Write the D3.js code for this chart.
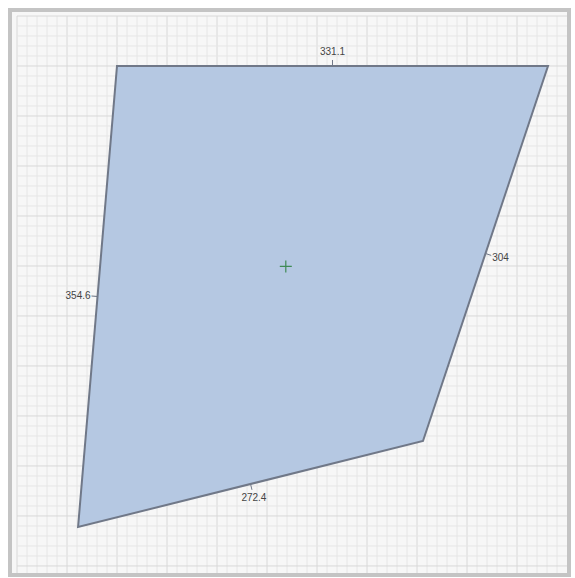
<!DOCTYPE html>
<html>
<head>
<meta charset="utf-8">
<script src="https://cdn.jsdelivr.net/npm/d3@7"></script>
<style>
  body { margin: 0; background: #fff; }
  text { font-family: "Liberation Sans", Arial, sans-serif; }
</style>
</head>
<body>
<div id="chart"></div>
<script>
// Polygon corners in plan units (x right, y down)
const cornerX = [76.8, 407.8, 311.8, 46.9];
const cornerY = [38.4, 38.4, 326.4, 392.5];
// Edge length labels, edge i runs from corner i to corner i+1
const edgeLabels = ["331.1", "304", "272.4", "354.6"];
// Grid step in plan units
const gridStep = 7.68;

const width = 575, height = 578;
const inner = { left: 17, top: 16, right: 567, bottom: 573 };

const svg = d3.select("#chart").append("svg")
    .attr("width", width)
    .attr("height", height);

// Scales: plan units to pixels
const x = d3.scaleLinear().domain([0, 422.4]).range([inner.left, inner.right]);
const y = d3.scaleLinear().domain([0, 427.8]).range([inner.top, inner.bottom]);

// Background frame
svg.append("rect")
    .attr("x", 10).attr("y", 10)
    .attr("width", 559).attr("height", 565)
    .attr("fill", "#f7f7f7")
    .attr("stroke", "#c4c4c4")
    .attr("stroke-width", 4);

// Grid
const grid = svg.append("g").attr("class", "grid");
const xTicks = d3.range(0, 422.4, gridStep);
const yTicks = d3.range(0, 427.8, gridStep);

grid.selectAll(".gx")
    .data(xTicks)
    .enter().append("line")
    .attr("class", "gx")
    .attr("x1", d => x(d)).attr("x2", d => x(d))
    .attr("y1", inner.top).attr("y2", inner.bottom)
    .attr("stroke", (d, i) => i % 5 === 0 ? "#d8d8d8" : "#e6e6e6")
    .attr("stroke-width", 1);

grid.selectAll(".gy")
    .data(yTicks)
    .enter().append("line")
    .attr("class", "gy")
    .attr("y1", d => y(d)).attr("y2", d => y(d))
    .attr("x1", inner.left).attr("x2", inner.right)
    .attr("stroke", (d, i) => i % 5 === 0 ? "#d8d8d8" : "#e6e6e6")
    .attr("stroke-width", 1);

// Polygon
const pts = cornerX.map((d, i) => [x(d), y(cornerY[i])]);

svg.append("path")
    .attr("d", d3.line()(pts) + "Z")
    .attr("fill", "#b5c8e2")
    .attr("stroke", "#707888")
    .attr("stroke-width", 2)
    .attr("stroke-linejoin", "miter");

// Centroid marker
const c = d3.polygonCentroid(pts);
svg.append("path")
    .attr("d", `M${c[0] - 6},${c[1]}H${c[0] + 6}M${c[0]},${c[1] - 6}V${c[1] + 6}`)
    .attr("stroke", "#3f8a55")
    .attr("stroke-width", 1.2)
    .attr("fill", "none");

// Edge labels, placed just outside each edge midpoint
const centre = [d3.mean(pts, p => p[0]), d3.mean(pts, p => p[1])];
const labels = svg.append("g").attr("class", "edge-labels");

edgeLabels.forEach((label, i) => {
    const a = pts[i], b = pts[(i + 1) % pts.length];
    const mx = (a[0] + b[0]) / 2, my = (a[1] + b[1]) / 2;
    // outward normal
    let nx = -(b[1] - a[1]), ny = b[0] - a[0];
    const len = Math.hypot(nx, ny);
    nx /= len; ny /= len;
    if ((mx - centre[0]) * nx + (my - centre[1]) * ny < 0) { nx = -nx; ny = -ny; }

    labels.append("line")
        .attr("x1", mx).attr("y1", my)
        .attr("x2", mx + nx * 6).attr("y2", my + ny * 6)
        .attr("stroke", "#707888")
        .attr("stroke-width", 1);

    const tx = mx + nx * 14, ty = my + ny * 14;
    let anchor = "middle";
    if (Math.abs(nx) > 0.7) anchor = nx > 0 ? "start" : "end";
    labels.append("text")
        .attr("x", Math.abs(nx) > 0.7 ? mx + nx * 7 : tx)
        .attr("y", ty)
        .attr("dy", "0.35em")
        .attr("text-anchor", anchor)
        .attr("font-size", 10)
        .attr("fill", "#444")
        .text(label);
});
</script>
</body>
</html>
